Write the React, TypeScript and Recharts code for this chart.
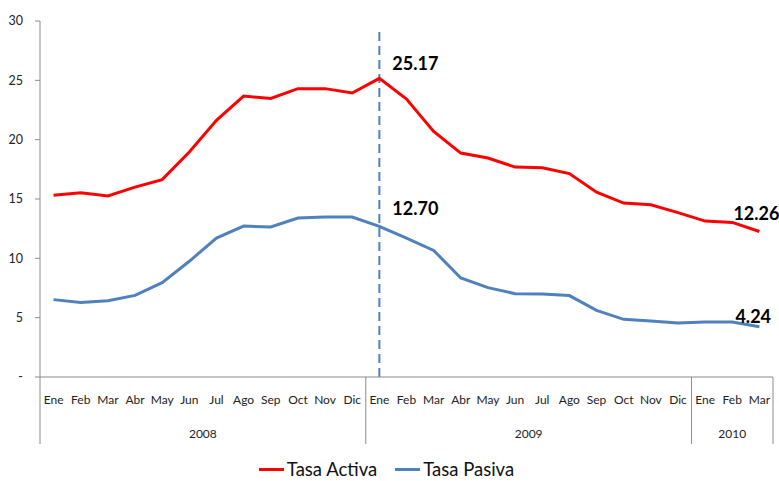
import React from "react";
import {
  LineChart,
  Line,
  XAxis,
  YAxis,
  ReferenceLine,
  Legend,
  LabelList,
} from "recharts";

const months = [
  "Ene", "Feb", "Mar", "Abr", "May", "Jun", "Jul", "Ago", "Sep", "Oct", "Nov", "Dic",
  "Ene", "Feb", "Mar", "Abr", "May", "Jun", "Jul", "Ago", "Sep", "Oct", "Nov", "Dic",
  "Ene", "Feb", "Mar",
];
const years = [
  "2008", "2008", "2008", "2008", "2008", "2008", "2008", "2008", "2008", "2008", "2008", "2008",
  "2009", "2009", "2009", "2009", "2009", "2009", "2009", "2009", "2009", "2009", "2009", "2009",
  "2010", "2010", "2010",
];
const tasaActiva = [
  15.31, 15.53, 15.25, 16.0, 16.63, 18.96, 21.63, 23.67, 23.48, 24.3, 24.3, 23.93,
  25.17, 23.42, 20.7, 18.87, 18.45, 17.69, 17.64, 17.14, 15.58, 14.66, 14.52, 13.85,
  13.14, 13.03, 12.26,
];
const tasaPasiva = [
  6.52, 6.27, 6.43, 6.88, 7.95, 9.75, 11.71, 12.72, 12.64, 13.4, 13.48, 13.48,
  12.7, 11.71, 10.67, 8.34, 7.53, 7.02, 7.0, 6.86, 5.62, 4.86, 4.72, 4.55,
  4.63, 4.63, 4.24,
];
const yTicks = [0, 5, 10, 15, 20, 25, 30];

const data = months.map((m, i) => ({
  key: `${m}-${years[i]}`,
  month: m,
  year: years[i],
  activa: tasaActiva[i],
  pasiva: tasaPasiva[i],
}));

const W = 779;
const H = 481;
const LEFT = 40;
const RIGHT = 6;
const BAND = (W - LEFT - RIGHT) / data.length;
const FONT = "Lato, 'Open Sans', sans-serif";
const AXIS = "#8c8c8c";

// year groups from the years list
const groups: { label: string; start: number; count: number }[] = [];
years.forEach((y, i) => {
  const g = groups[groups.length - 1];
  if (g && g.label === y) g.count++;
  else groups.push({ label: y, start: i, count: 1 });
});

function MonthTick(props: any) {
  const { x, y, payload } = props;
  const i = data.findIndex((d) => d.key === payload.value);
  if (i < 0) return null;
  const g = groups.find((gr) => gr.start === i);
  const isLast = i === data.length - 1;
  return (
    <g>
      <text x={x} y={y + 27} textAnchor="middle" fontSize={12} fill="#222" fontFamily={FONT}>
        {data[i].month}
      </text>
      {g && (
        <>
          <line x1={x - BAND / 2} x2={x - BAND / 2} y1={y} y2={y + 67} stroke={AXIS} />
          <text
            x={x - BAND / 2 + (g.count * BAND) / 2}
            y={y + 61}
            textAnchor="middle"
            fontSize={12}
            fill="#222"
            fontFamily={FONT}
          >
            {g.label}
          </text>
        </>
      )}
      {isLast && (
        <line x1={x + BAND / 2} x2={x + BAND / 2} y1={y} y2={y + 67} stroke={AXIS} />
      )}
    </g>
  );
}

const labelOffsets: Record<string, Record<number, [number, number]>> = {
  activa: { 12: [13, -15], 26: [-26, -19] },
  pasiva: { 12: [13, -18], 26: [-24, -11] },
};

function endLabel(series: string) {
  return (props: any) => {
    const { x, y, index, value } = props;
    const off = labelOffsets[series][index];
    if (!off) return null;
    return (
      <text
        x={x + off[0]}
        y={y + off[1]}
        dominantBaseline="central"
        fontSize={18}
        fontWeight="bold"
        fill="#000"
        fontFamily={FONT}
      >
        {Number(value).toFixed(2)}
      </text>
    );
  };
}

function LegendBox() {
  const item = (color: string, label: string) => (
    <div style={{ display: "flex", alignItems: "center", margin: "0 9px" }}>
      <div style={{ width: 25, height: 3, background: color, marginRight: 3 }} />
      <span style={{ fontSize: 18.5, color: "#111", fontFamily: FONT }}>{label}</span>
    </div>
  );
  return (
    <div style={{ height: 24, display: "flex", justifyContent: "center", alignItems: "center" }}>
      {item("#ff0000", "Tasa Activa")}
      {item("#4f81bd", "Tasa Pasiva")}
    </div>
  );
}

export default function App() {
  return (
    <div style={{ position: "absolute", left: 0, top: 0, width: W, height: H, background: "#fff" }}>
      <LineChart
        width={W}
        height={H}
        data={data}
        margin={{ top: 21, right: RIGHT, left: 0, bottom: 0 }}
      >
        <XAxis
          dataKey="key"
          scale="band"
          interval={0}
          tickLine={false}
          tickSize={0}
          tickMargin={0}
          height={80}
          stroke={AXIS}
          tick={<MonthTick />}
        />
        <YAxis
          domain={[0, 30]}
          ticks={yTicks}
          width={LEFT}
          tickSize={5}
          tickMargin={12}
          stroke={AXIS}
          tick={{ fill: "#222", fontSize: 12.5, fontFamily: FONT }}
          tickFormatter={(v: number) => (v === 0 ? "-" : String(v))}
        />
        <ReferenceLine
          segment={[
            { x: "Ene-2009", y: 0 },
            { x: "Ene-2009", y: 29.5 },
          ]}
          stroke="#4f81bd"
          strokeWidth={2}
          strokeDasharray="9 5"
        />
        <Line
          type="linear"
          dataKey="activa"
          name="Tasa Activa"
          stroke="#ff0000"
          strokeWidth={3}
          dot={false}
          isAnimationActive={false}
        >
          <LabelList dataKey="activa" content={endLabel("activa")} />
        </Line>
        <Line
          type="linear"
          dataKey="pasiva"
          name="Tasa Pasiva"
          stroke="#4f81bd"
          strokeWidth={3}
          dot={false}
          isAnimationActive={false}
        >
          <LabelList dataKey="pasiva" content={endLabel("pasiva")} />
        </Line>
        <Legend verticalAlign="bottom" content={<LegendBox />} />
      </LineChart>
    </div>
  );
}
